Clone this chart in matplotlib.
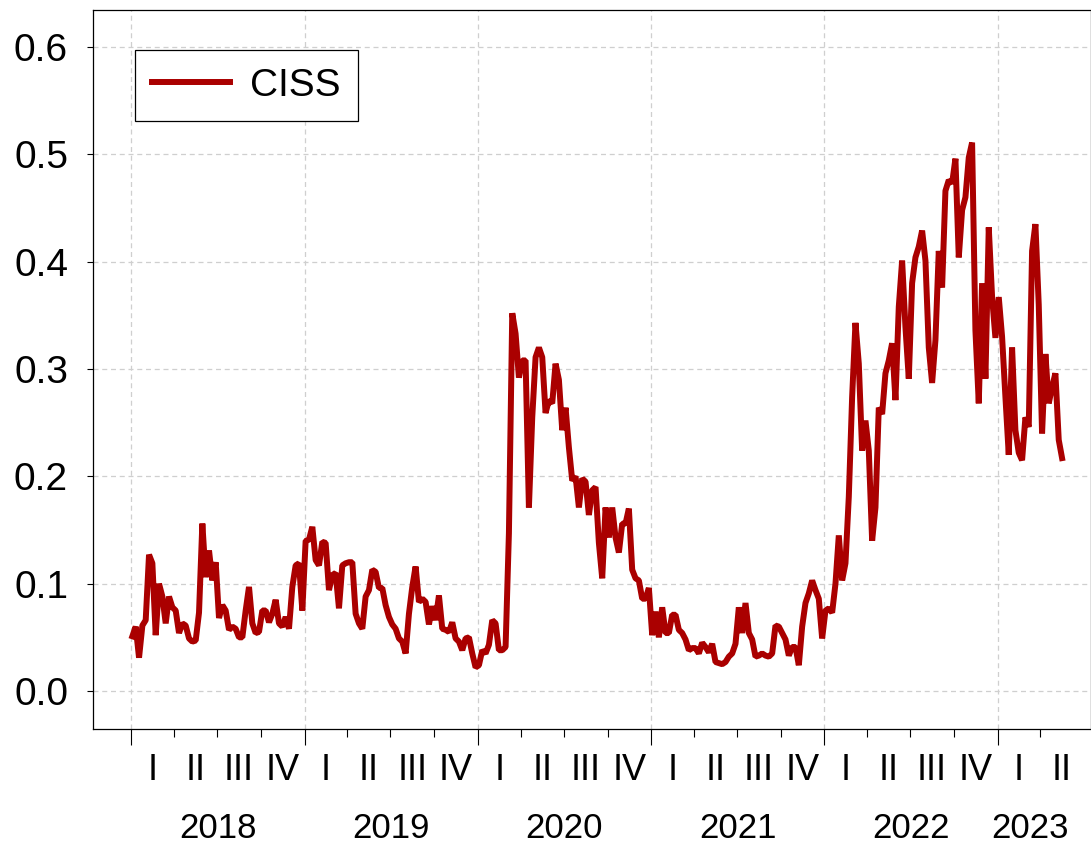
import numpy as np
import pandas as pd
import matplotlib
matplotlib.use("Agg")
import matplotlib.pyplot as plt
from matplotlib import font_manager

# weekly CISS readings in blocks (Jan 2018 -> May 2023)
ciss_a = [0.051, 0.060, 0.031, 0.061, 0.066, 0.127, 0.119, 0.052, 0.100, 0.088, 0.063, 0.088,
          0.078, 0.075, 0.054, 0.063, 0.061, 0.049, 0.046, 0.047, 0.073, 0.156, 0.106, 0.131,
          0.103, 0.120, 0.068, 0.080, 0.075, 0.057, 0.060, 0.058, 0.050, 0.050, 0.075, 0.097]
ciss_b = [0.063, 0.054, 0.055, 0.075, 0.075, 0.064, 0.072, 0.085, 0.063, 0.060, 0.069, 0.058,
          0.097, 0.117, 0.119, 0.075, 0.140, 0.141, 0.153, 0.122, 0.117, 0.139, 0.138, 0.094,
          0.108, 0.110, 0.077, 0.117, 0.119, 0.120, 0.120, 0.072, 0.063]
ciss_c = [0.058, 0.088, 0.094, 0.113, 0.111, 0.096, 0.096, 0.080, 0.069, 0.062, 0.058, 0.049,
          0.046, 0.035, 0.072, 0.097, 0.116, 0.083, 0.086, 0.083, 0.062, 0.079, 0.066, 0.089,
          0.058, 0.057, 0.055, 0.064, 0.049, 0.046, 0.038, 0.049, 0.050, 0.035, 0.022, 0.024,
          0.038]
ciss_d = [0.035, 0.043, 0.066, 0.063, 0.038, 0.038, 0.041, 0.147, 0.352, 0.333, 0.292, 0.308,
          0.308, 0.171, 0.255, 0.311, 0.320, 0.311, 0.259, 0.271, 0.268, 0.305, 0.290, 0.243,
          0.264, 0.227, 0.196, 0.200, 0.171, 0.198, 0.195, 0.164, 0.187, 0.190]
ciss_e = [0.138, 0.105, 0.171, 0.143, 0.171, 0.143, 0.129, 0.156, 0.156, 0.170, 0.113, 0.105,
          0.103, 0.086, 0.086, 0.096, 0.052, 0.074, 0.050, 0.078, 0.054, 0.054, 0.071, 0.071,
          0.057, 0.054, 0.048, 0.038, 0.040, 0.040, 0.035, 0.045, 0.041, 0.036]
ciss_f = [0.044, 0.027, 0.026, 0.025, 0.027, 0.032, 0.035, 0.044, 0.078, 0.054, 0.082, 0.054,
          0.048, 0.032, 0.033, 0.035, 0.033, 0.032, 0.035, 0.061, 0.060, 0.054, 0.048, 0.033,
          0.041, 0.041, 0.024, 0.060, 0.082, 0.091, 0.103, 0.094, 0.086, 0.049, 0.075, 0.077,
          0.073]
ciss_g = [0.100, 0.145, 0.103, 0.119, 0.181, 0.274, 0.343, 0.305, 0.224, 0.252, 0.224, 0.140,
          0.171, 0.264, 0.258, 0.296, 0.308, 0.324, 0.271, 0.358, 0.401, 0.339, 0.291, 0.380,
          0.404, 0.414, 0.429, 0.401, 0.320, 0.287, 0.327, 0.410, 0.376, 0.466, 0.476]
ciss_h = [0.473, 0.496, 0.404, 0.448, 0.460, 0.497, 0.511, 0.336, 0.268, 0.380, 0.291, 0.432,
          0.367, 0.329, 0.367, 0.330, 0.274, 0.220, 0.320, 0.243, 0.222, 0.215, 0.255, 0.246,
          0.410, 0.435, 0.360, 0.240, 0.314, 0.268, 0.283, 0.296, 0.234, 0.217]

first_day = "2018-01-03"
last_day = "2023-05-17"
years = [2018, 2019, 2020, 2021, 2022, 2023]
quarters = ["I", "II", "III", "IV"]
y_ticks = [0.0, 0.1, 0.2, 0.3, 0.4, 0.5, 0.6]


def pick_font(*names):
    have = {f.name for f in font_manager.fontManager.ttflist}
    for n in names:
        if n in have:
            return n
    return "DejaVu Sans"


def main():
    ciss = np.array(ciss_a + ciss_b + ciss_c + ciss_d + ciss_e + ciss_f + ciss_g + ciss_h)
    dates = pd.date_range(first_day, last_day, periods=len(ciss))

    sans = pick_font("Liberation Sans", "Arial")

    fig = plt.figure(figsize=(10.91, 8.49), dpi=100)
    ax = fig.add_axes([93 / 1091, 1 - 729 / 849, 1 - 93 / 1091, 719 / 849])

    ax.plot(dates, ciss, color="#aa0000", lw=4.3, label="CISS", solid_joinstyle="bevel")

    ax.set_xlim(pd.Timestamp("2017-10-12"), pd.Timestamp("2023-07-17"))
    ax.set_ylim(-0.0354, 0.6345)

    # year ticks (long) + quarter ticks (short)
    year_starts = [pd.Timestamp(f"{y}-01-01") for y in years]
    q_starts = [pd.Timestamp(f"{y}-{m:02d}-01") for y in years for m in (4, 7, 10)
                if pd.Timestamp(f"{y}-{m:02d}-01") < pd.Timestamp(last_day)]
    ax.set_xticks(year_starts)
    ax.set_xticks(q_starts, minor=True)
    ax.tick_params(axis="x", which="major", length=11.5, width=0.8, direction="out",
                   labelbottom=False)
    ax.tick_params(axis="x", which="minor", length=5.8, width=0.8, direction="out")

    ax.set_yticks(y_ticks)
    ax.set_yticklabels([f"{v:.1f}" for v in y_ticks], fontsize=28, family=sans)
    ax.tick_params(axis="y", length=4, width=0.8, direction="out", pad=14)

    ax.grid(True, which="major", color="#cfcfcf", linestyle=(0, (4, 3)), lw=0.9)
    ax.set_axisbelow(True)
    for s in ax.spines.values():
        s.set_linewidth(0.9)

    # quarter and year labels under the axis
    trans = ax.get_xaxis_transform()
    end = pd.Timestamp(last_day)
    for y in years:
        for qi, q in enumerate(quarters):
            q0 = pd.Timestamp(f"{y}-{3 * qi + 1:02d}-01")
            if q0 > end:
                continue
            q1 = q0 + pd.DateOffset(months=3)
            mid = q0 + (q1 - q0) / 2
            ax.text(mid, -0.058, q, transform=trans, ha="center", va="center",
                    fontsize=26, family=sans)
        y0 = pd.Timestamp(f"{y}-01-01")
        y1 = min(pd.Timestamp(f"{y + 1}-01-01"), end)
        ax.text(y0 + (y1 - y0) / 2, -0.138, str(y), transform=trans, ha="center",
                va="center", fontsize=25, family=sans)

    leg = ax.legend(loc="upper left", bbox_to_anchor=(0.042, 0.944), borderaxespad=0,
                    prop={"family": sans, "size": 28}, handlelength=2.0,
                    handletextpad=0.5, borderpad=0.45, fancybox=False, framealpha=1)
    leg.get_frame().set_edgecolor("black")
    leg.get_frame().set_linewidth(0.9)

    fig.savefig("out.png", dpi=100)


if __name__ == "__main__":
    main()
